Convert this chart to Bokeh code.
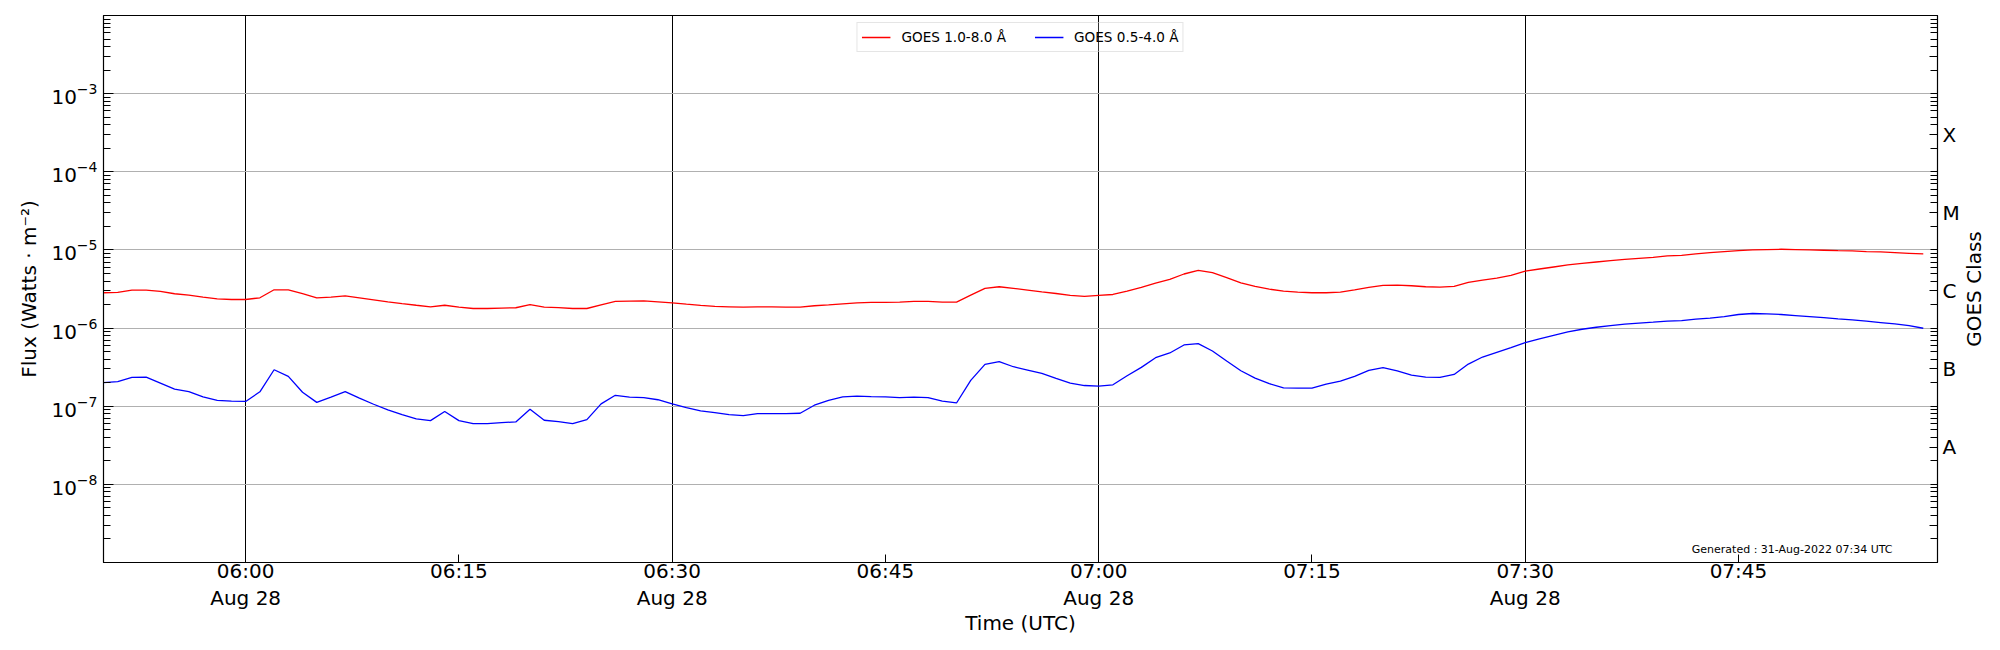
import math
import datetime as dt
import pandas as pd
from bokeh.plotting import figure
from bokeh.layouts import row
from bokeh.models import LogAxis, FixedTicker, Label, Range1d
from bokeh.core.properties import value
from bokeh.embed import file_html
from bokeh.resources import INLINE

# ---------------- data ----------------
start_time = "2022-08-28 05:50"          # first 1-min sample
cadence = "1min"

# GOES 1.0-8.0 A (W m^-2)
xrs_long = [
    2.83e-6, 2.86e-6, 3.06e-6, 3.06e-6, 2.94e-6, 2.75e-6, 2.64e-6, 2.49e-6, 2.37e-6, 2.32e-6,
    2.32e-6, 2.44e-6, 3.09e-6, 3.09e-6, 2.75e-6, 2.44e-6, 2.49e-6, 2.59e-6, 2.44e-6, 2.30e-6,
    2.17e-6, 2.06e-6, 1.96e-6, 1.87e-6, 1.96e-6, 1.85e-6, 1.78e-6, 1.78e-6, 1.80e-6, 1.82e-6,
    2.00e-6, 1.85e-6, 1.83e-6, 1.78e-6, 1.78e-6, 1.98e-6, 2.19e-6, 2.21e-6, 2.23e-6, 2.17e-6,
    2.10e-6, 2.02e-6, 1.95e-6, 1.89e-6, 1.87e-6, 1.85e-6, 1.87e-6, 1.87e-6, 1.85e-6, 1.85e-6,
    1.93e-6, 1.98e-6, 2.04e-6, 2.10e-6, 2.13e-6, 2.13e-6, 2.15e-6, 2.19e-6, 2.19e-6, 2.15e-6,
    2.15e-6, 2.64e-6, 3.22e-6, 3.38e-6, 3.22e-6, 3.06e-6, 2.91e-6, 2.77e-6, 2.62e-6, 2.54e-6,
    2.62e-6, 2.69e-6, 2.97e-6, 3.31e-6, 3.77e-6, 4.20e-6, 4.92e-6, 5.48e-6, 5.11e-6, 4.41e-6,
    3.80e-6, 3.41e-6, 3.15e-6, 2.97e-6, 2.89e-6, 2.83e-6, 2.83e-6, 2.89e-6, 3.09e-6, 3.31e-6,
    3.52e-6, 3.55e-6, 3.48e-6, 3.38e-6, 3.35e-6, 3.41e-6, 3.84e-6, 4.12e-6, 4.37e-6, 4.73e-6,
    5.37e-6, 5.70e-6, 6.05e-6, 6.42e-6, 6.74e-6, 7.01e-6, 7.29e-6, 7.59e-6, 7.81e-6, 8.05e-6,
    8.37e-6, 8.54e-6, 8.89e-6, 9.24e-6, 9.52e-6, 9.80e-6, 1.00e-5, 1.01e-5, 1.02e-5, 1.01e-5,
    1.00e-5, 9.90e-6, 9.80e-6, 9.71e-6, 9.52e-6, 9.43e-6, 9.24e-6, 9.06e-6, 8.89e-6,
]

# GOES 0.5-4.0 A (W m^-2)
xrs_short = [
    2.00e-7, 2.07e-7, 2.34e-7, 2.36e-7, 1.98e-7, 1.65e-7, 1.54e-7, 1.32e-7, 1.19e-7, 1.16e-7,
    1.15e-7, 1.53e-7, 2.93e-7, 2.41e-7, 1.51e-7, 1.12e-7, 1.31e-7, 1.54e-7, 1.27e-7, 1.06e-7,
    8.97e-8, 7.81e-8, 6.88e-8, 6.54e-8, 8.54e-8, 6.54e-8, 5.99e-8, 5.99e-8, 6.17e-8, 6.29e-8,
    9.15e-8, 6.61e-8, 6.35e-8, 5.99e-8, 6.74e-8, 1.07e-7, 1.38e-7, 1.31e-7, 1.29e-7, 1.21e-7,
    1.07e-7, 9.61e-8, 8.71e-8, 8.29e-8, 7.81e-8, 7.59e-8, 8.05e-8, 8.05e-8, 8.05e-8, 8.13e-8,
    1.03e-7, 1.19e-7, 1.32e-7, 1.35e-7, 1.33e-7, 1.32e-7, 1.29e-7, 1.31e-7, 1.29e-7, 1.16e-7,
    1.10e-7, 2.14e-7, 3.43e-7, 3.71e-7, 3.20e-7, 2.90e-7, 2.63e-7, 2.27e-7, 1.98e-7, 1.84e-7,
    1.81e-7, 1.88e-7, 2.45e-7, 3.14e-7, 4.18e-7, 4.80e-7, 6.08e-7, 6.32e-7, 5.09e-7, 3.79e-7,
    2.84e-7, 2.29e-7, 1.94e-7, 1.72e-7, 1.70e-7, 1.70e-7, 1.92e-7, 2.10e-7, 2.41e-7, 2.87e-7,
    3.11e-7, 2.84e-7, 2.50e-7, 2.36e-7, 2.34e-7, 2.55e-7, 3.46e-7, 4.26e-7, 4.89e-7, 5.62e-7,
    6.51e-7, 7.26e-7, 8.09e-7, 8.93e-7, 9.66e-7, 1.025e-6, 1.077e-6, 1.120e-6, 1.154e-6, 1.188e-6,
    1.224e-6, 1.248e-6, 1.299e-6, 1.338e-6, 1.405e-6, 1.491e-6, 1.536e-6, 1.521e-6, 1.491e-6, 1.447e-6,
    1.405e-6, 1.364e-6, 1.312e-6, 1.273e-6, 1.224e-6, 1.177e-6, 1.131e-6, 1.077e-6, 9.95e-7,
]

series_labels = ["GOES 1.0-8.0 Å", "GOES 0.5-4.0 Å"]
series_colors = ["#ff0000", "#0000ff"]

x_tick_times = ["2022-08-28 06:00", "2022-08-28 06:15", "2022-08-28 06:30", "2022-08-28 06:45",
                "2022-08-28 07:00", "2022-08-28 07:15", "2022-08-28 07:30", "2022-08-28 07:45"]
x_tick_labels = ["06:00\nAug 28", "06:15", "06:30\nAug 28", "06:45",
                 "07:00\nAug 28", "07:15", "07:30\nAug 28", "07:45"]
x_grid_times = ["2022-08-28 06:00", "2022-08-28 06:30", "2022-08-28 07:00", "2022-08-28 07:30"]

flux_ticks = [1e-8, 1e-7, 1e-6, 1e-5, 1e-4, 1e-3]
class_ticks = [3e-9, 3e-8, 3e-7, 3e-6, 3e-5, 3e-4, 3e-3]
class_labels = ["", "A", "B", "C", "M", "X", ""]
class_axis_title = "GOES Class"

generated_text = "Generated : 31-Aug-2022 07:34 UTC"

# ---------------- figure ----------------
def ms(t):
    return float(pd.Timestamp(t).value // 10**6)

times = pd.date_range(start_time, periods=len(xrs_long), freq=cadence)
x0 = dt.datetime(2022, 8, 28, 5, 50)
x1 = dt.datetime(2022, 8, 28, 7, 59)
y0, y1 = 1e-9, 1e-2

FONT = "DejaVu Sans"
FRAME_W, FRAME_H = 1834, 547
B_LEFT, B_TOP, B_BOTTOM, B_RIGHT = 103, 15, 88, 24

p = figure(frame_width=FRAME_W, frame_height=FRAME_H, x_axis_type="datetime", y_axis_type="log",
           x_range=Range1d(x0, x1), y_range=Range1d(y0, y1),
           output_backend="svg", toolbar_location=None,
           min_border_left=B_LEFT, min_border_right=B_RIGHT,
           min_border_top=B_TOP, min_border_bottom=B_BOTTOM)
p.background_fill_color = "white"
p.border_fill_color = "white"
p.outline_line_color = "black"
p.outline_line_width = 1.2

p.line(times, xrs_long, line_color=series_colors[0], line_width=1.3, legend_label=series_labels[0])
p.line(times, xrs_short, line_color=series_colors[1], line_width=1.3, legend_label=series_labels[1])

# x axis
xt = [ms(t) for t in x_tick_times]
xa = p.xaxis[0]
xa.ticker = FixedTicker(ticks=xt, minor_ticks=[])
xa.major_label_overrides = {k: v for k, v in zip(xt, x_tick_labels)}
xa.major_tick_in = 8
xa.major_tick_out = 0
xa.minor_tick_in = 0
xa.minor_tick_out = 0
xa.major_label_standoff = -4
xa.major_label_text_font = FONT
xa.major_label_text_font_size = "20px"
xa.major_label_text_line_height = 1.13
xa.major_label_text_color = "black"
xa.axis_label = "Time (UTC)"
xa.axis_label_text_font = FONT
xa.axis_label_text_font_size = "20px"
xa.axis_label_text_font_style = "normal"
xa.axis_label_text_color = "black"
xa.axis_label_standoff = -2
xa.axis_line_color = "black"
xa.major_tick_line_color = "black"

# x grid: black lines every 30 min
p.xgrid[0].ticker = FixedTicker(ticks=[ms(t) for t in x_grid_times], minor_ticks=[])
p.xgrid[0].grid_line_color = "black"
p.xgrid[0].grid_line_width = 1
p.xgrid[0].grid_line_alpha = 1.0

# left y axis
minor_y = [k * 10.0 ** n for n in range(-9, -2) for k in range(2, 10)]
ya = p.yaxis[0]
ya.ticker = FixedTicker(ticks=flux_ticks, minor_ticks=minor_y)
ya.major_tick_in = 10
ya.major_tick_out = 0
ya.minor_tick_in = 7
ya.minor_tick_out = 0
ya.major_label_standoff = 6
ya.major_label_text_font = FONT
ya.major_label_text_font_size = "20px"
ya.major_label_text_color = "black"
ya.axis_label = "Flux (Watts · m⁻²)"
ya.axis_label_text_font = FONT
ya.axis_label_text_font_size = "20px"
ya.axis_label_text_font_style = "normal"
ya.axis_label_text_color = "black"
ya.axis_label_standoff = 7
ya.axis_line_color = "black"

p.ygrid[0].grid_line_color = "#b0b0b0"
p.ygrid[0].grid_line_width = 1

# right y axis: GOES class letters
minor_r = [k * 10.0 ** n for n in range(-9, -2) for k in (1, 2, 4, 5, 6, 7, 8, 9)] + [1e-2]
ra = LogAxis(ticker=FixedTicker(ticks=class_ticks, minor_ticks=minor_r))
ra.major_label_overrides = {k: v for k, v in zip(class_ticks, class_labels)}
ra.major_tick_in = 8
ra.major_tick_out = 0
ra.minor_tick_in = 7
ra.minor_tick_out = 0
ra.major_label_standoff = 5
ra.major_label_text_font = FONT
ra.major_label_text_font_size = "20px"
ra.major_label_text_color = "black"
ra.axis_line_color = "black"
p.add_layout(ra, "right")

# legend
lg = p.legend[0]
lg.location = "top_center"
lg.orientation = "horizontal"
lg.label_text_font = FONT
lg.label_text_font_size = "13.6px"
lg.label_text_color = "black"
lg.glyph_width = 29
lg.glyph_height = 20
lg.label_standoff = 11
lg.spacing = 28
lg.padding = 4
lg.margin = 7
lg.border_line_color = "#cccccc"
lg.border_line_width = 1
lg.background_fill_color = "white"
lg.background_fill_alpha = 0.2

# generated stamp
p.add_layout(Label(x=ms(x1), y=y0, x_offset=-45, y_offset=13, text=generated_text,
                   text_align="right", text_baseline="alphabetic",
                   text_font=FONT, text_font_size="11px", text_color="black"))

# right-hand axis title (reads bottom-to-top, as in the original), in a slim strip
side = figure(frame_width=23, frame_height=FRAME_H, x_range=Range1d(0, 1), y_range=Range1d(0, 1),
              output_backend="svg", toolbar_location=None,
              min_border_left=0, min_border_right=0,
              min_border_top=B_TOP, min_border_bottom=B_BOTTOM)
side.axis.visible = False
side.grid.visible = False
side.outline_line_color = None
side.background_fill_color = "white"
side.border_fill_color = "white"
side.text(x=[0.5], y=[0.5], text=[class_axis_title], angle=math.pi / 2,
          text_align="center", text_baseline="middle",
          text_font=value(FONT), text_font_size="20px", text_color="black")

layout = row(p, side, spacing=0)
open("out.html", "w").write(file_html(layout, INLINE))
